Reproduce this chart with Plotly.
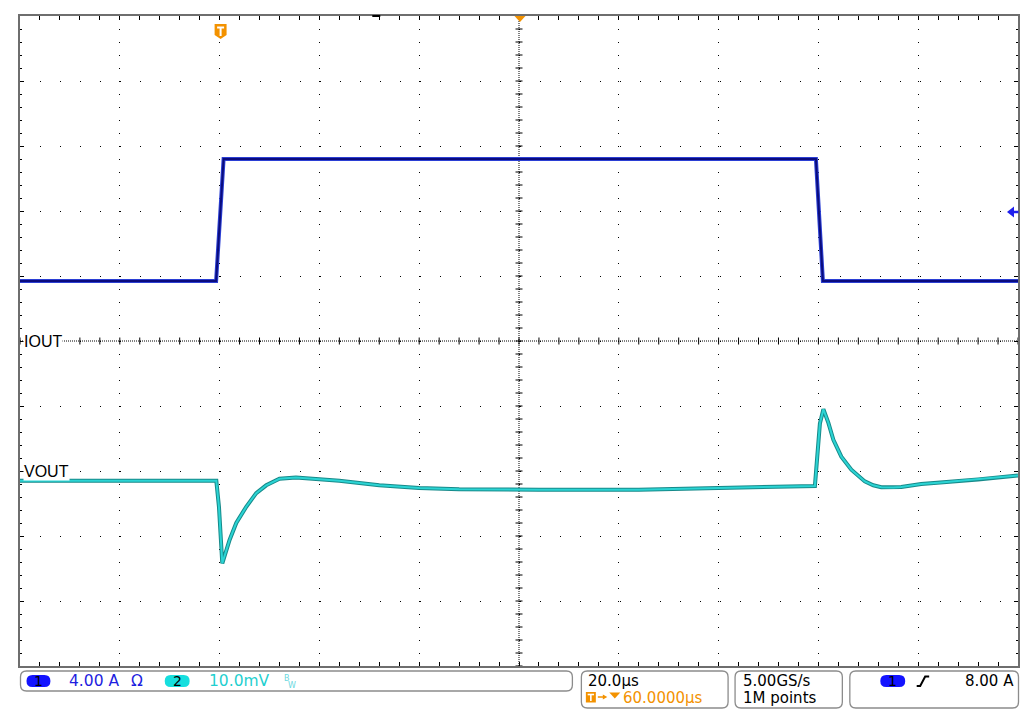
import plotly.graph_objects as go
import numpy as np

# ---------------- data ----------------
# time in µs relative to trigger (20 µs/div, trigger 2 div from left edge)
iout_t = [-40, -0.7, 0.8, 119.5, 120.9, 160]
iout_a = [3.7, 3.7, 11.2, 11.2, 3.7, 3.7]          # A (4.00 A/div, ref at centre)

vout_t = [-40, -0.66, -0.13, 0.34, 0.54, 2.0, 3.34, 5.34, 7.34, 9.34, 12.0, 15.3,
          20.0, 24.0, 32.0, 40.0, 48.0, 56.0, 64.0, 84.0, 94.0, 104.0, 119.3,
          120.3, 121.0, 122.0, 123.0, 124.6, 126.6, 129.3, 131.0, 132.6, 135.0, 136.6, 140.6,
          144.0, 152.0, 160.0]
vout_mv = [-1.5, -1.5, -5.5, -13.2, -14.2, -10.6, -8.0, -5.5, -3.4, -2.2, -1.2, -1.0,
           -1.3, -1.5, -2.2, -2.6, -2.8, -2.9, -2.9, -2.9, -2.7, -2.6, -2.3,
           7.3, 9.5, 7.4, 4.8, 2.2, 0.2, -1.6, -2.2, -2.5, -2.55, -2.45, -2.0,
           -1.8, -1.3, -0.7]                        # mV (10.0 mV/div, ref 2 div below centre)

ch1_label, ch2_label = "IOUT", "VOUT"
ch1_scale, ch1_extra = "4.00 A", "Ω"
ch2_scale = "10.0mV"
timebase = "20.0µs"
hpos = "60.0000µs"
rate, points = "5.00GS/s", "1M points"
trig_level = "8.00 A"

# ---------------- layout helpers ----------------
W, H = 1024, 710
L, R, T, B = 20, 1020, 16, 666


def px(x):
    return (x - L) / (R - L)


def py(y):
    return (B - y) / (B - T)


def pth(pts, close=True):
    s = "M " + " L ".join(f"{px(x):.5f},{py(y):.5f}" for x, y in pts)
    return s + (" Z" if close else "")


def rbox(x0, y0, x1, y1, r):
    c = lambda x, y: f"{px(x):.5f},{py(y):.5f}"
    return (f"M {c(x0 + r, y0)} L {c(x1 - r, y0)} Q {c(x1, y0)} {c(x1, y0 + r)} "
            f"L {c(x1, y1 - r)} Q {c(x1, y1)} {c(x1 - r, y1)} L {c(x0 + r, y1)} "
            f"Q {c(x0, y1)} {c(x0, y1 - r)} L {c(x0, y0 + r)} Q {c(x0, y0)} {c(x0 + r, y0)} Z")


fig = go.Figure()

# centre crosshair tick marks (decoration)
fig.add_trace(go.Scatter(x=np.arange(-40, 160.01, 4), y=np.zeros(51), mode="markers",
                         marker=dict(symbol="line-ns", size=5, line=dict(width=1, color="black")),
                         hoverinfo="skip", showlegend=False, cliponaxis=False))
fig.add_trace(go.Scatter(x=np.full(51, 60.0), y=np.arange(-5, 5.001, 0.2), mode="markers",
                         marker=dict(symbol="line-ew", size=5, line=dict(width=1, color="black")),
                         hoverinfo="skip", showlegend=False, cliponaxis=False))

# channel 1 (IOUT)
fig.add_trace(go.Scatter(x=iout_t, y=iout_a, yaxis="y2", mode="lines",
                         line=dict(color="#2b3fd4", width=4), showlegend=False))
fig.add_trace(go.Scatter(x=iout_t, y=iout_a, yaxis="y2", mode="lines",
                         line=dict(color="#0a0c7e", width=2), showlegend=False))
# channel 2 (VOUT)
fig.add_trace(go.Scatter(x=vout_t, y=vout_mv, yaxis="y3", mode="lines",
                         line=dict(color="#178a8a", width=4), showlegend=False))
fig.add_trace(go.Scatter(x=vout_t, y=vout_mv, yaxis="y3", mode="lines",
                         line=dict(color="#2bd4d4", width=2), showlegend=False))

shapes = []
# centre dotted lines
shapes.append(dict(type="line", xref="x", yref="y", x0=-40, x1=160, y0=0, y1=0,
                   line=dict(color="black", width=1, dash="1px,1px"), layer="between"))
shapes.append(dict(type="line", xref="x", yref="y", x0=60, x1=60, y0=-5, y1=5,
                   line=dict(color="black", width=1, dash="1px,1px"), layer="between"))

ORANGE = "#f39200"
BLUE_PILL = "#1414ff"
CYAN_PILL = "#16dede"
# trigger position marker (T shield)
shapes.append(dict(type="path", xref="paper", yref="paper",
                   path=pth([(215, 24), (227, 24), (227, 35), (221, 39), (215, 35)]),
                   fillcolor=ORANGE, line=dict(width=0)))
shapes.append(dict(type="path", xref="paper", yref="paper",
                   path=pth([(217.5, 27.5), (224.5, 27.5)], close=False),
                   line=dict(color="white", width=2)))
shapes.append(dict(type="path", xref="paper", yref="paper",
                   path=pth([(221, 27.5), (221, 36)], close=False),
                   line=dict(color="white", width=2)))
# horizontal position marker
shapes.append(dict(type="path", xref="paper", yref="paper",
                   path=pth([(515.5, 16), (526.5, 16), (521, 22)]),
                   fillcolor=ORANGE, line=dict(width=0)))
# small record marker on top edge
shapes.append(dict(type="line", xref="paper", yref="paper", x0=px(373), x1=px(381),
                   y0=py(16), y1=py(16), line=dict(color="black", width=2)))
# ch1 reference arrow (right edge)
shapes.append(dict(type="path", xref="paper", yref="paper",
                   path=pth([(1009, 212), (1016, 206.5), (1016, 217.5)]),
                   fillcolor="#1f1fee", line=dict(width=0)))
shapes.append(dict(type="line", xref="paper", yref="paper", x0=px(1014), x1=px(1020.5),
                   y0=py(212), y1=py(212), line=dict(color="#1f1fee", width=2.5)))

# status boxes
for (x0, y0, x1, y1) in [(20.5, 671, 573.5, 691), (582.5, 671, 729.5, 708),
                         (736.5, 671, 844, 708), (851.5, 671, 1020.5, 708)]:
    shapes.append(dict(type="path", xref="paper", yref="paper", path=rbox(x0, y0, x1, y1, 6),
                       line=dict(color="#8c8c8c", width=1.3), fillcolor="rgba(0,0,0,0)"))
# pills
for (x0, x1, col) in [(26.5, 50.5, BLUE_PILL), (165, 190, CYAN_PILL), (882, 907, BLUE_PILL)]:
    shapes.append(dict(type="path", xref="paper", yref="paper", path=rbox(x0, 675, x1, 687, 6),
                       line=dict(width=0), fillcolor=col))
# orange T box + arrow + triangle in delay readout
shapes.append(dict(type="rect", xref="paper", yref="paper", x0=px(587), x1=px(597),
                   y0=py(692), y1=py(702.5), fillcolor=ORANGE, line=dict(width=0)))
shapes.append(dict(type="path", xref="paper", yref="paper",
                   path=pth([(588.8, 694.5), (595.2, 694.5)], close=False),
                   line=dict(color="white", width=1.6)))
shapes.append(dict(type="path", xref="paper", yref="paper",
                   path=pth([(592, 694.5), (592, 701)], close=False),
                   line=dict(color="white", width=1.6)))
shapes.append(dict(type="path", xref="paper", yref="paper",
                   path=pth([(599, 697), (605, 697)], close=False),
                   line=dict(color=ORANGE, width=1.5)))
shapes.append(dict(type="path", xref="paper", yref="paper",
                   path=pth([(604, 694.5), (608.5, 697), (604, 699.5)]),
                   fillcolor=ORANGE, line=dict(width=0)))
shapes.append(dict(type="path", xref="paper", yref="paper",
                   path=pth([(610.5, 692.5), (621.5, 692.5), (616, 698.5)]),
                   fillcolor=ORANGE, line=dict(width=0)))
# rising edge symbol
shapes.append(dict(type="path", xref="paper", yref="paper",
                   path=pth([(918.5, 686), (922, 686), (927, 676.5), (931, 676.5)], close=False),
                   line=dict(color="black", width=2)))

annotations = []


def txt(text, x, y, color="black", size=15, family="DejaVu Sans", xanchor="left", **kw):
    annotations.append(dict(text=text, x=px(x), y=py(y), xref="paper", yref="paper",
                            xanchor=xanchor, yanchor="middle", showarrow=False,
                            font=dict(color=color, size=size, family=family), **kw))


# channel labels on the graticule
annotations.append(dict(text=ch1_label, x=px(23.5), y=0, xref="paper", yref="y",
                        xanchor="left", yanchor="middle", showarrow=False, bgcolor="white",
                        borderpad=0, font=dict(size=16, family="Liberation Sans", color="black")))
annotations.append(dict(text=ch2_label, x=px(23.5), y=-2, xref="paper", yref="y",
                        xanchor="left", yanchor="middle", showarrow=False, bgcolor="white",
                        borderpad=0, font=dict(size=16, family="Liberation Sans", color="black")))

BLUE_TXT = "#1e1ee0"
CYAN_TXT = "#1fcfcf"
txt("1", 38.5, 681, size=14, xanchor="center")
txt(ch1_scale, 67, 681, color=BLUE_TXT, size=15.5)
txt(ch1_extra, 129, 681, color=BLUE_TXT, size=15.5)
txt("2", 177.5, 681, size=14, xanchor="center")
txt(ch2_scale, 207, 681, color=CYAN_TXT, size=15.5)
txt("B", 283, 678.5, color="#6ad8e0", size=8)
txt("W", 287, 685.5, color="#6ad8e0", size=8)

txt(timebase, 587, 680.5)
txt(hpos, 622.5, 697.5, color=ORANGE)
txt(rate, 742, 680.5)
txt(points, 742, 697.5)
txt("1", 894.5, 681, size=14, xanchor="center")
txt(trig_level, 1018, 680.5, xanchor="right")

fig.update_layout(
    width=W, height=H,
    margin=dict(l=L, r=W - R, t=T, b=H - B, pad=0),
    paper_bgcolor="white", plot_bgcolor="white",
    showlegend=False,
    xaxis=dict(range=[-40, 160], tick0=0, dtick=20, showticklabels=False,
               showgrid=True, gridcolor="black", gridwidth=1, griddash="1px,12px",
               zeroline=False, showline=True, linecolor="#6e6e6e", linewidth=1.5,
               mirror="allticks", ticks="inside", ticklen=4, tickcolor="black", tickwidth=1,
               minor=dict(tick0=0, dtick=4, ticks="inside", ticklen=2, tickcolor="black",
                          showgrid=False),
               fixedrange=True),
    yaxis=dict(range=[-5, 5], tick0=0, dtick=1, showticklabels=False,
               showgrid=True, gridcolor="black", gridwidth=1, griddash="1px,19px",
               zeroline=False, showline=True, linecolor="#6e6e6e", linewidth=1.5,
               mirror="allticks", ticks="inside", ticklen=4, tickcolor="black", tickwidth=1,
               minor=dict(tick0=0, dtick=0.2, ticks="inside", ticklen=2, tickcolor="black",
                          showgrid=False),
               fixedrange=True),
    yaxis2=dict(range=[-20, 20], overlaying="y", anchor="x", visible=False, fixedrange=True),
    yaxis3=dict(range=[-30, 70], overlaying="y", anchor="x", visible=False, fixedrange=True),
    shapes=shapes,
    annotations=annotations,
)

fig.write_html("out.html", config={"displayModeBar": False},
               post_script="document.body.style.margin='0';document.body.style.overflow='hidden';")
